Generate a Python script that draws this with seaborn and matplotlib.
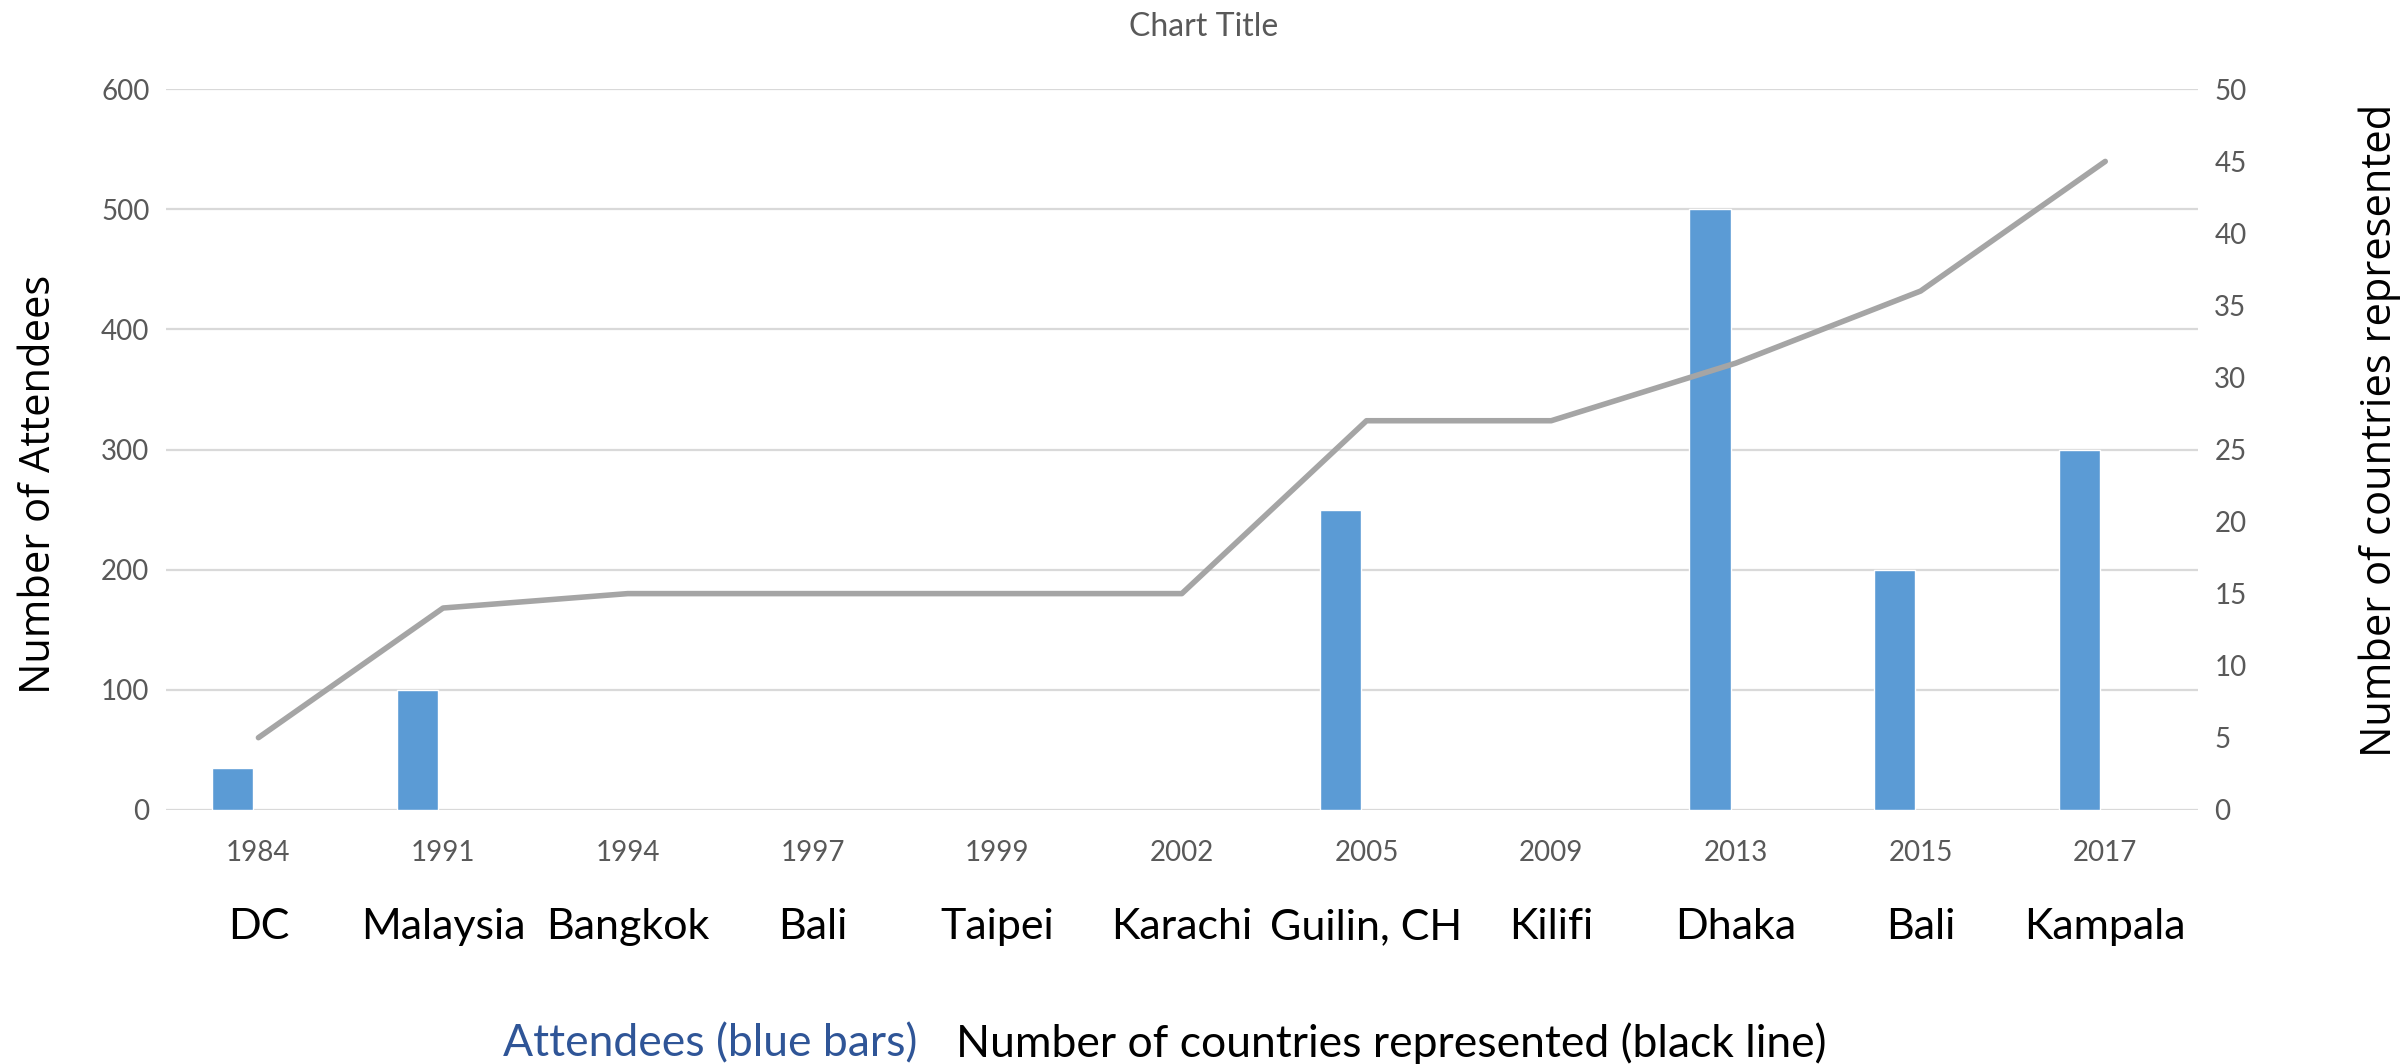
import numpy as np
import pandas as pd
import matplotlib
matplotlib.use("Agg")
import matplotlib.pyplot as plt
import matplotlib.transforms as mtransforms
import seaborn as sns

# Conference history
years = ["1984", "1991", "1994", "1997", "1999", "2002", "2005", "2009", "2013", "2015", "2017"]
places = ["DC", "Malaysia", "Bangkok", "Bali", "Taipei", "Karachi", "Guilin, CH", "Kilifi",
          "Dhaka", "Bali", "Kampala"]
attendees = [35, 100, np.nan, np.nan, np.nan, np.nan, 250, np.nan, 500, 200, 300]
countries = [5, 14, 15, 15, 15, 15, 27, 27, 31, 36, 45]

left_ticks = [0, 100, 200, 300, 400, 500, 600]
right_ticks = [0, 5, 10, 15, 20, 25, 30, 35, 40, 45, 50]

BAR_COLOR = "#5B9BD5"
LINE_COLOR = "#A5A5A5"
GRID_COLOR = "#D9D9D9"
TICK_COLOR = "#595959"
TEXT_FONT = ["Lato", "DejaVu Sans"]
TITLE_FONT = ["Open Sans", "DejaVu Sans"]

sns.set_theme(style="white")
plt.rcParams["font.family"] = TEXT_FONT

fig = plt.figure(figsize=(24.07, 10.64), dpi=100)
ax = fig.add_axes([0.069, 0.239, 0.844, 0.677])

# Bars: two-slot cluster per category, only the first slot is filled
bars = pd.DataFrame({
    "year": years + years,
    "value": attendees + [np.nan] * len(years),
    "series": ["Attendees"] * len(years) + ["Countries"] * len(years),
})
sns.barplot(data=bars, x="year", y="value", hue="series",
            hue_order=["Attendees", "Countries"], order=years,
            palette=[BAR_COLOR, LINE_COLOR], width=0.56, gap=0.2,
            saturation=1, legend=False, ax=ax, zorder=2)

ax.set_ylim(0, 600)
ax.set_xlim(-0.5, len(years) - 0.5)
ax.set_yticks(left_ticks)
ax.yaxis.grid(True, color=GRID_COLOR, linewidth=1.6, zorder=0)
ax.set_axisbelow(True)
for s in ax.spines.values():
    s.set_visible(False)
ax.tick_params(axis="both", length=0, labelsize=20, colors=TICK_COLOR, pad=12)
ax.tick_params(axis="x", pad=22)
ax.set_xticks(range(len(years)))
ax.set_xticklabels(years)
ax.set_xlabel("")
ax.set_ylabel("Number of Attendees", fontsize=30, family=TITLE_FONT, color="black")
ax.yaxis.set_label_coords(-0.052, 0.451)

# Line on secondary axis
ax2 = ax.twinx()
line_df = pd.DataFrame({"pos": np.arange(len(years)), "countries": countries})
sns.lineplot(data=line_df, x="pos", y="countries", color=LINE_COLOR,
             linewidth=4, ax=ax2, zorder=3)
ax2.set_ylim(0, 50)
ax2.set_xlim(-0.5, len(years) - 0.5)
ax2.set_yticks(right_ticks)
ax2.grid(False)
for s in ax2.spines.values():
    s.set_visible(False)
ax2.tick_params(axis="y", length=0, labelsize=20, colors=TICK_COLOR, pad=12)
ax2.set_xlabel("")
ax2.set_ylabel("Number of countries represented", fontsize=30, family=TITLE_FONT,
               color="black")
ax2.yaxis.set_label_coords(1.079, 0.526)

# Second row of category labels: host locations
trans = mtransforms.blended_transform_factory(ax.transData, fig.transFigure)
for i, name in enumerate(places):
    ax.text(i, 1 - 927 / 1064, name, transform=trans, ha="center", va="center",
            fontsize=31, color="black")

fig.text(0.5, 1 - 27 / 1064, "Chart Title", ha="center", va="center",
         fontsize=23, color=TICK_COLOR)

# Bottom caption describing both series
fig.text(0.381, 1 - 1044 / 1064, "Attendees (blue bars)", ha="right", va="center",
         fontsize=32, color="#2F5597")
fig.text(0.397, 1 - 1044 / 1064, "Number of countries represented (black line)",
         ha="left", va="center", fontsize=32, color="black")

fig.savefig("out.png", dpi=100, facecolor="white")
